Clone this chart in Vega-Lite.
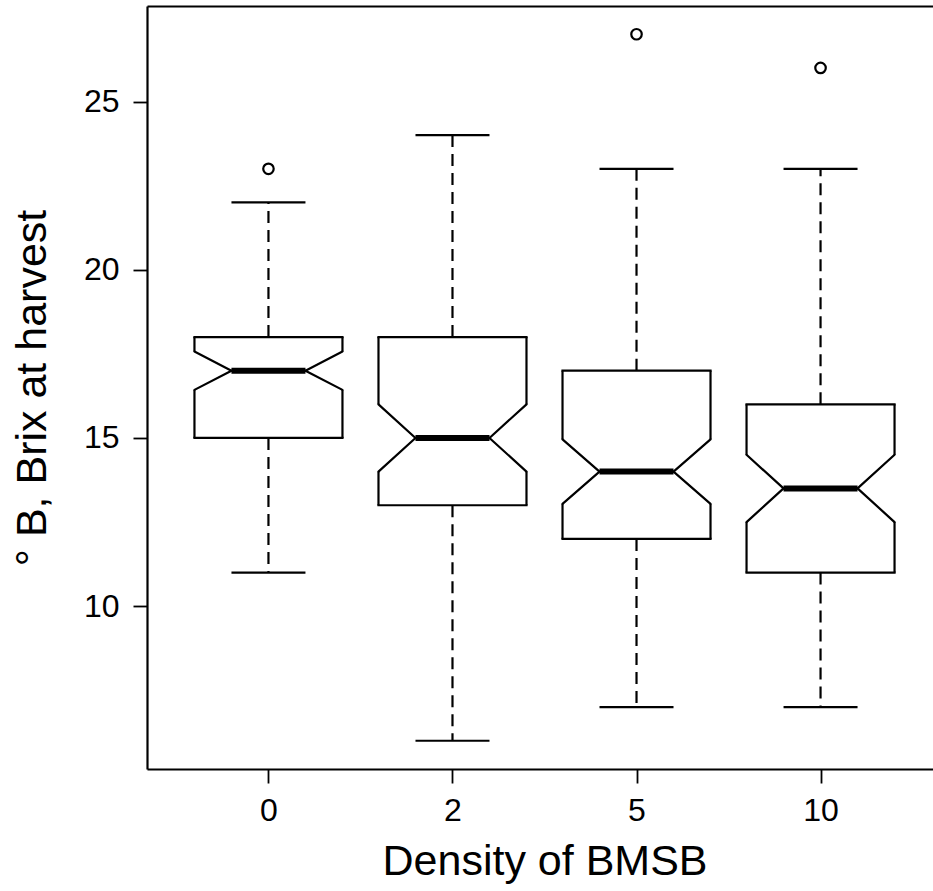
{
  "$schema": "https://vega.github.io/schema/vega-lite/v6.json",
  "autosize": {"type": "none"},
  "padding": {"left": 147, "top": 6, "right": 0, "bottom": 122},
  "width": 786,
  "height": 763,
  "background": "white",
  "config": {
    "view": {"stroke": null},
    "axis": {
      "labelFont": "Liberation Sans", "titleFont": "Liberation Sans",
      "labelColor": "black", "titleColor": "black",
      "tickColor": "black", "domainColor": "black",
      "domainWidth": 2.2, "tickWidth": 1.8, "grid": false,
      "labelFontSize": 32, "titleFontSize": 43, "titleFontWeight": "normal"
    }
  },
  "datasets": {
    "boxes": [
      {"density": "0", "ymin": 11, "q1": 15, "notch_lo": 16.43, "median": 17, "notch_hi": 17.57, "q3": 18, "ymax": 22},
      {"density": "2", "ymin": 6, "q1": 13, "notch_lo": 14.0, "median": 15, "notch_hi": 16.0, "q3": 18, "ymax": 24},
      {"density": "5", "ymin": 7, "q1": 12, "notch_lo": 13.04, "median": 14, "notch_hi": 14.96, "q3": 17, "ymax": 23},
      {"density": "10", "ymin": 7, "q1": 11, "notch_lo": 12.5, "median": 13.5, "notch_hi": 14.5, "q3": 16, "ymax": 23}
    ],
    "outliers": [
      {"density": "0", "value": 23},
      {"density": "5", "value": 27},
      {"density": "10", "value": 26}
    ]
  },
  "resolve": {"axis": {"x": "independent", "y": "independent"}},
  "layer": [
    {
      "data": {"name": "boxes"},
      "mark": {"type": "rule", "color": "black", "strokeWidth": 2.2, "strokeDash": [12, 7]},
      "encoding": {
        "x": {"field": "density", "type": "nominal", "sort": ["0", "2", "5", "10"],
              "scale": {"type": "point", "range": [0, 795], "padding": 0.66},
              "axis": {"title": "Density of BMSB", "labelAngle": 0, "tickSize": 14, "labelPadding": 12, "titlePadding": 14, "domain": true}},
        "y": {"field": "q3", "type": "quantitative",
              "scale": {"domain": [5.16, 27.84], "nice": false, "zero": false},
              "axis": {"title": "° B, Brix at harvest", "values": [10, 15, 20, 25], "tickSize": 14, "labelPadding": 14, "titlePadding": 29, "domain": true}},
        "y2": {"field": "ymax"}
      }
    },
    {
      "data": {"name": "boxes"},
      "mark": {"type": "rule", "color": "black", "strokeWidth": 2.2, "strokeDash": [12, 7]},
      "encoding": {
        "x": {"field": "density", "type": "nominal", "sort": ["0", "2", "5", "10"], "axis": null},
        "y": {"field": "q1", "type": "quantitative", "axis": null},
        "y2": {"field": "ymin"}
      }
    },
    {
      "data": {"name": "boxes"},
      "mark": {"type": "rule", "color": "black", "strokeWidth": 2.2, "xOffset": -37, "x2Offset": 37},
      "encoding": {
        "x": {"field": "density", "type": "nominal", "sort": ["0", "2", "5", "10"],
              "axis": {"orient": "top", "labels": false, "ticks": false, "title": null, "domain": true}},
        "x2": {"field": "density"},
        "y": {"field": "ymax", "type": "quantitative", "axis": null}
      }
    },
    {
      "data": {"name": "boxes"},
      "mark": {"type": "rule", "color": "black", "strokeWidth": 2.2, "xOffset": -37, "x2Offset": 37},
      "encoding": {
        "x": {"field": "density", "type": "nominal", "sort": ["0", "2", "5", "10"], "axis": null},
        "x2": {"field": "density"},
        "y": {"field": "ymin", "type": "quantitative", "axis": null}
      }
    },
    {
      "data": {"name": "boxes"},
      "mark": {"type": "rule", "color": "black", "strokeWidth": 2.2, "strokeCap": "square", "xOffset": -74, "x2Offset": 74},
      "encoding": {
        "x": {"field": "density", "type": "nominal", "sort": ["0", "2", "5", "10"], "axis": null},
        "x2": {"field": "density"},
        "y": {"field": "q3", "type": "quantitative", "axis": null}
      }
    },
    {
      "data": {"name": "boxes"},
      "mark": {"type": "rule", "color": "black", "strokeWidth": 2.2, "strokeCap": "square", "xOffset": -74, "x2Offset": 74},
      "encoding": {
        "x": {"field": "density", "type": "nominal", "sort": ["0", "2", "5", "10"], "axis": null},
        "x2": {"field": "density"},
        "y": {"field": "q1", "type": "quantitative", "axis": null}
      }
    },
    {
      "data": {"name": "boxes"},
      "mark": {"type": "rule", "color": "black", "strokeWidth": 2.2, "xOffset": -74},
      "encoding": {
        "x": {"field": "density", "type": "nominal", "sort": ["0", "2", "5", "10"], "axis": null},
        "y": {"field": "q1", "type": "quantitative", "axis": null},
        "y2": {"field": "notch_lo"}
      }
    },
    {
      "data": {"name": "boxes"},
      "mark": {"type": "rule", "color": "black", "strokeWidth": 2.2, "xOffset": -74},
      "encoding": {
        "x": {"field": "density", "type": "nominal", "sort": ["0", "2", "5", "10"], "axis": null},
        "y": {"field": "notch_hi", "type": "quantitative", "axis": null},
        "y2": {"field": "q3"}
      }
    },
    {
      "data": {"name": "boxes"},
      "mark": {"type": "rule", "color": "black", "strokeWidth": 2.2, "xOffset": 74},
      "encoding": {
        "x": {"field": "density", "type": "nominal", "sort": ["0", "2", "5", "10"], "axis": null},
        "y": {"field": "q1", "type": "quantitative", "axis": null},
        "y2": {"field": "notch_lo"}
      }
    },
    {
      "data": {"name": "boxes"},
      "mark": {"type": "rule", "color": "black", "strokeWidth": 2.2, "xOffset": 74},
      "encoding": {
        "x": {"field": "density", "type": "nominal", "sort": ["0", "2", "5", "10"], "axis": null},
        "y": {"field": "notch_hi", "type": "quantitative", "axis": null},
        "y2": {"field": "q3"}
      }
    },
    {
      "data": {"name": "boxes"},
      "mark": {"type": "rule", "color": "black", "strokeWidth": 2.2, "strokeCap": "round", "xOffset": -74, "x2Offset": -37},
      "encoding": {
        "x": {"field": "density", "type": "nominal", "sort": ["0", "2", "5", "10"], "axis": null},
        "x2": {"field": "density"},
        "y": {"field": "notch_lo", "type": "quantitative", "axis": null},
        "y2": {"field": "median"}
      }
    },
    {
      "data": {"name": "boxes"},
      "mark": {"type": "rule", "color": "black", "strokeWidth": 2.2, "strokeCap": "round", "xOffset": -74, "x2Offset": -37},
      "encoding": {
        "x": {"field": "density", "type": "nominal", "sort": ["0", "2", "5", "10"], "axis": null},
        "x2": {"field": "density"},
        "y": {"field": "notch_hi", "type": "quantitative", "axis": null},
        "y2": {"field": "median"}
      }
    },
    {
      "data": {"name": "boxes"},
      "mark": {"type": "rule", "color": "black", "strokeWidth": 2.2, "strokeCap": "round", "xOffset": 74, "x2Offset": 37},
      "encoding": {
        "x": {"field": "density", "type": "nominal", "sort": ["0", "2", "5", "10"], "axis": null},
        "x2": {"field": "density"},
        "y": {"field": "notch_lo", "type": "quantitative", "axis": null},
        "y2": {"field": "median"}
      }
    },
    {
      "data": {"name": "boxes"},
      "mark": {"type": "rule", "color": "black", "strokeWidth": 2.2, "strokeCap": "round", "xOffset": 74, "x2Offset": 37},
      "encoding": {
        "x": {"field": "density", "type": "nominal", "sort": ["0", "2", "5", "10"], "axis": null},
        "x2": {"field": "density"},
        "y": {"field": "notch_hi", "type": "quantitative", "axis": null},
        "y2": {"field": "median"}
      }
    },
    {
      "data": {"name": "boxes"},
      "mark": {"type": "rule", "color": "black", "strokeWidth": 6, "xOffset": -37, "x2Offset": 37},
      "encoding": {
        "x": {"field": "density", "type": "nominal", "sort": ["0", "2", "5", "10"], "axis": null},
        "x2": {"field": "density"},
        "y": {"field": "median", "type": "quantitative", "axis": null}
      }
    },
    {
      "data": {"name": "outliers"},
      "mark": {"type": "point", "shape": "circle", "filled": false, "size": 110, "color": "black", "strokeWidth": 2.2, "opacity": 1},
      "encoding": {
        "x": {"field": "density", "type": "nominal", "sort": ["0", "2", "5", "10"], "axis": null},
        "y": {"field": "value", "type": "quantitative", "axis": null}
      }
    }
  ]
}
